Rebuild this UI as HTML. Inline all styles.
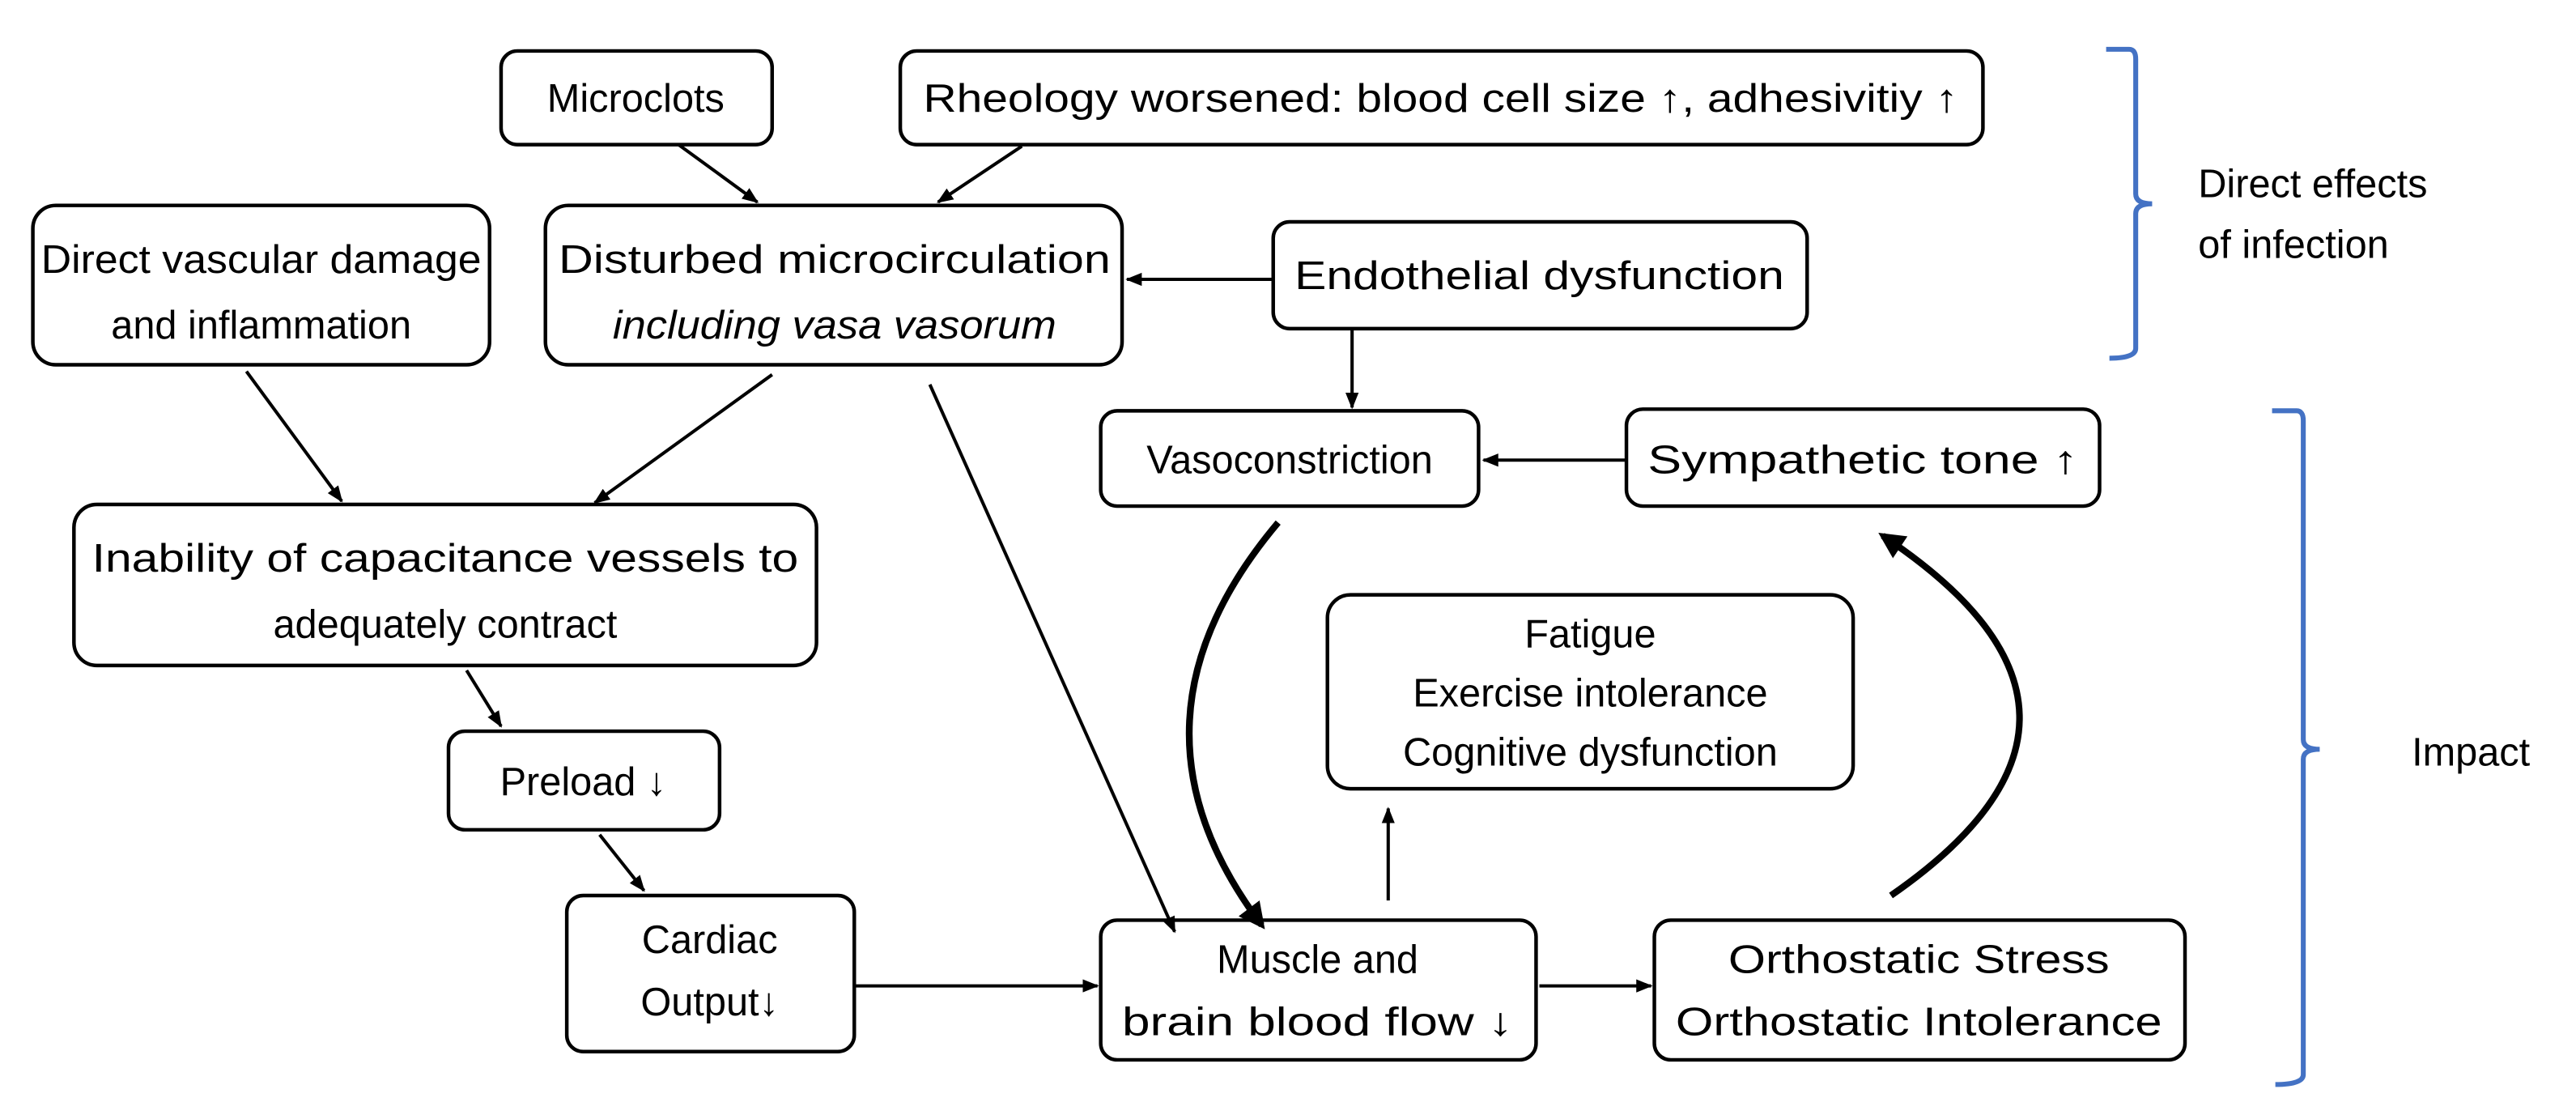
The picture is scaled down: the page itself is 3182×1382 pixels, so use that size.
<!DOCTYPE html>
<html><head><meta charset="utf-8"><style>html,body{margin:0;padding:0;background:#fff}svg{display:block}</style></head>
<body>
<svg width="3182" height="1382" viewBox="0 0 1568 681" xmlns="http://www.w3.org/2000/svg" font-family="Liberation Sans, DejaVu Sans, sans-serif" font-size="24">
<defs>
<marker id="a" viewBox="0 0 10 10" refX="9" refY="5" markerWidth="5" markerHeight="5" orient="auto"><path d="M0,1 L10,5 L0,9 z" fill="#000"/></marker>
<marker id="b" viewBox="0 0 10 10" refX="8" refY="5" markerWidth="4" markerHeight="4" orient="auto"><path d="M0,0 L10,5 L0,10 z" fill="#000"/></marker>
</defs>
<g fill="none" stroke="#000" stroke-width="2.2">
<rect x="305" y="31" width="165" height="57" rx="10"/>
<rect x="548" y="31" width="659" height="57" rx="10"/>
<rect x="20" y="125" width="278" height="97" rx="14"/>
<rect x="332" y="125" width="351" height="97" rx="14"/>
<rect x="775" y="135" width="325" height="65" rx="10"/>
<rect x="670" y="250" width="230" height="58" rx="10"/>
<rect x="990" y="249" width="288" height="59" rx="10"/>
<rect x="45" y="307" width="452" height="98" rx="14"/>
<rect x="808" y="362" width="320" height="118" rx="14"/>
<rect x="273" y="445" width="165" height="60" rx="10"/>
<rect x="345" y="545" width="175" height="95" rx="10"/>
<rect x="670" y="560" width="265" height="85" rx="10"/>
<rect x="1007" y="560" width="323" height="85" rx="10"/>
</g>
<g fill="#000" text-anchor="middle">
<text x="387" y="68">Microclots</text>
<text x="877" y="68" textLength="630" lengthAdjust="spacingAndGlyphs">Rheology worsened: blood cell size ↑, adhesivitiy ↑</text>
<text x="159" y="166" textLength="268" lengthAdjust="spacingAndGlyphs">Direct vascular damage</text>
<text x="159" y="206">and inflammation</text>
<text x="508" y="166" textLength="336" lengthAdjust="spacingAndGlyphs">Disturbed microcirculation</text>
<text x="508" y="206" font-style="italic" textLength="270" lengthAdjust="spacingAndGlyphs">including vasa vasorum</text>
<text x="937" y="176" textLength="298" lengthAdjust="spacingAndGlyphs">Endothelial dysfunction</text>
<text x="785" y="288">Vasoconstriction</text>
<text x="1134" y="288" textLength="262" lengthAdjust="spacingAndGlyphs">Sympathetic tone ↑</text>
<text x="271" y="348" textLength="430" lengthAdjust="spacingAndGlyphs">Inability of capacitance vessels to</text>
<text x="271" y="388">adequately contract</text>
<text x="968" y="394">Fatigue</text>
<text x="968" y="430">Exercise intolerance</text>
<text x="968" y="466">Cognitive dysfunction</text>
<text x="355" y="484">Preload ↓</text>
<text x="432" y="580">Cardiac</text>
<text x="432" y="618">Output↓</text>
<text x="802" y="592">Muscle and</text>
<text x="802" y="630" textLength="238" lengthAdjust="spacingAndGlyphs">brain blood flow ↓</text>
<text x="1168" y="592" textLength="232" lengthAdjust="spacingAndGlyphs">Orthostatic Stress</text>
<text x="1168" y="630" textLength="296" lengthAdjust="spacingAndGlyphs">Orthostatic Intolerance</text>
</g>
<g fill="#000" font-size="24">
<text x="1338" y="120">Direct effects</text>
<text x="1338" y="157">of infection</text>
<text x="1468" y="466">Impact</text>
</g>
<g fill="none" stroke="#4472c4" stroke-width="3">
<path d="M1282,30 L1296,30 Q1300,30 1300,36 L1300,118 Q1300,124 1310,124 Q1300,124 1300,130 L1300,212 Q1300,218 1284,218"/>
<path d="M1383,250 L1398,250 Q1402,250 1402,256 L1402,450 Q1402,456 1412,456 Q1402,456 1402,462 L1402,654 Q1402,660 1385,660"/>
</g>
<g stroke="#000" stroke-width="2" fill="none" marker-end="url(#a)">
<line x1="413" y1="88" x2="461" y2="123"/>
<line x1="622" y1="89" x2="571" y2="123"/>
<line x1="775" y1="170" x2="686" y2="170"/>
<line x1="823" y1="200" x2="823" y2="248"/>
<line x1="990" y1="280" x2="903" y2="280"/>
<line x1="150" y1="226" x2="208" y2="305"/>
<line x1="470" y1="228" x2="362" y2="306"/>
<line x1="566" y1="234" x2="715" y2="567"/>
<line x1="284" y1="408" x2="305" y2="442"/>
<line x1="365" y1="508" x2="392" y2="542"/>
<line x1="520" y1="600" x2="668" y2="600"/>
<line x1="845" y1="548" x2="845" y2="492"/>
<line x1="937" y1="600" x2="1005" y2="600"/>
</g>
<g stroke="#000" stroke-width="4" fill="none" marker-end="url(#b)">
<path d="M778,318 Q675,440 768,563"/>
<path d="M1151,545 Q1310,435 1146,326"/>
</g>
</svg>
</body></html>
